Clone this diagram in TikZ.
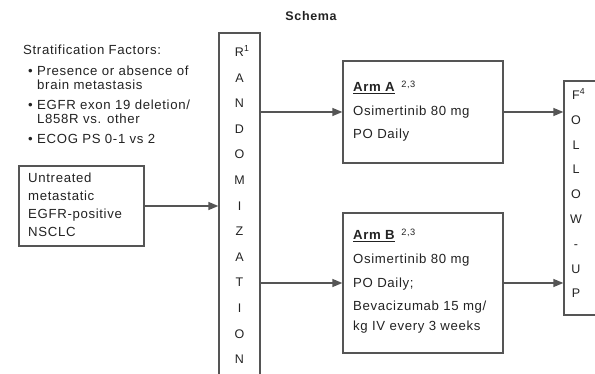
\documentclass[tikz,border=0pt]{standalone}
\usepackage{fontspec}
\setmainfont{Liberation Sans}[LetterSpace=5]
\usetikzlibrary{arrows.meta}
\definecolor{ln}{HTML}{555555}
\definecolor{tx}{HTML}{222222}
\begin{document}
\begin{tikzpicture}[x=1pt,y=-1pt,
  box/.style={draw=ln,line width=1.3pt,inner sep=0pt},
  conn/.style={draw=ln,line width=1.3pt,-{Triangle[length=10pt,width=8pt]}},
  lbl/.style={anchor=base west,inner sep=0pt,font=\fontsize{13.2}{15}\selectfont,text=tx},
  letter/.style={anchor=base,inner sep=0pt,font=\fontsize{12.5}{14}\selectfont,text=tx},
]
\useasboundingbox (0,0) rectangle (595,374);
\clip (0,0) rectangle (595,374);

\node[font=\bfseries\fontsize{12.5}{14}\selectfont,text=tx,inner sep=0pt] (title) at (311,16) {Schema};

% stratification factors
\node[lbl] (sf) at (23,55) {Stratification Factors:};
\node[lbl] (b1) at (28,76) {\textbullet};
\node[lbl] (s1a) at (37,76) {Presence or absence of};
\node[lbl] (s1b) at (37,90) {brain metastasis};
\node[lbl] (b2) at (28,110) {\textbullet};
\node[lbl] (s2a) at (37,110) {EGFR exon 19 deletion/};
\node[lbl] (s2b) at (37,124) {L858R vs. other};
\node[lbl] (b3) at (28,144) {\textbullet};
\node[lbl] (s3) at (37,144) {ECOG PS 0-1 vs 2};

% population box
\node[box,minimum width=125pt,minimum height=80pt] (pop) at (81.5,206) {};
\node[lbl] (p1) at (28,183) {Untreated};
\node[lbl] (p2) at (28,201) {metastatic};
\node[lbl] (p3) at (28,219) {EGFR-positive};
\node[lbl] (p4) at (28,237) {NSCLC};

% randomization box
\node[box,minimum width=41pt,minimum height=360pt] (rand) at (239.5,213) {};
\foreach \ch [count=\i from 0] in {R\rlap{\raisebox{1pt}{\textsuperscript{1}}},A,N,D,O,M,I,Z,A,T,I,O,N}{
  \node[letter] (r\i) at (239.5,{56.5+25.6*\i}) {\ch};
}

% arm A
\node[box,minimum width=160pt,minimum height=102pt] (armA) at (423,112) {};
\node[lbl] (a1) at (353,92) {\underline{\textbf{Arm A}}\hspace{6pt}\textsuperscript{2,3}};
\node[lbl] (a2) at (353,116) {Osimertinib 80 mg};
\node[lbl] (a3) at (353,139) {PO Daily};

% arm B
\node[box,minimum width=160pt,minimum height=140pt] (armB) at (423,283) {};
\node[lbl] (c1) at (353,240) {\underline{\textbf{Arm B}}\hspace{6pt}\textsuperscript{2,3}};
\node[lbl] (c2) at (353,264) {Osimertinib 80 mg};
\node[lbl] (c3) at (353,288) {PO Daily;};
\node[lbl] (c4) at (353,311) {Bevacizumab 15 mg/};
\node[lbl] (c5) at (353,331) {kg IV every 3 weeks};

% follow-up box
\node[box,minimum width=56pt,minimum height=234pt] (fu) at (592,198) {};
\foreach \ch [count=\i from 0] in {F\rlap{\raisebox{1pt}{\textsuperscript{4}}},O,L,L,O,W,-,U,P}{
  \node[letter] (f\i) at (576,{99.5+24.8*\i}) {\ch};
}

% connectors
\draw[conn] (pop.east) -- (rand.west |- pop.east);
\draw[conn] (rand.east |- armA.west) -- (armA.west);
\draw[conn] (rand.east |- armB.west) -- (armB.west);
\draw[conn] (armA.east) -- (fu.west |- armA.east);
\draw[conn] (armB.east) -- (fu.west |- armB.east);
\end{tikzpicture}
\end{document}
